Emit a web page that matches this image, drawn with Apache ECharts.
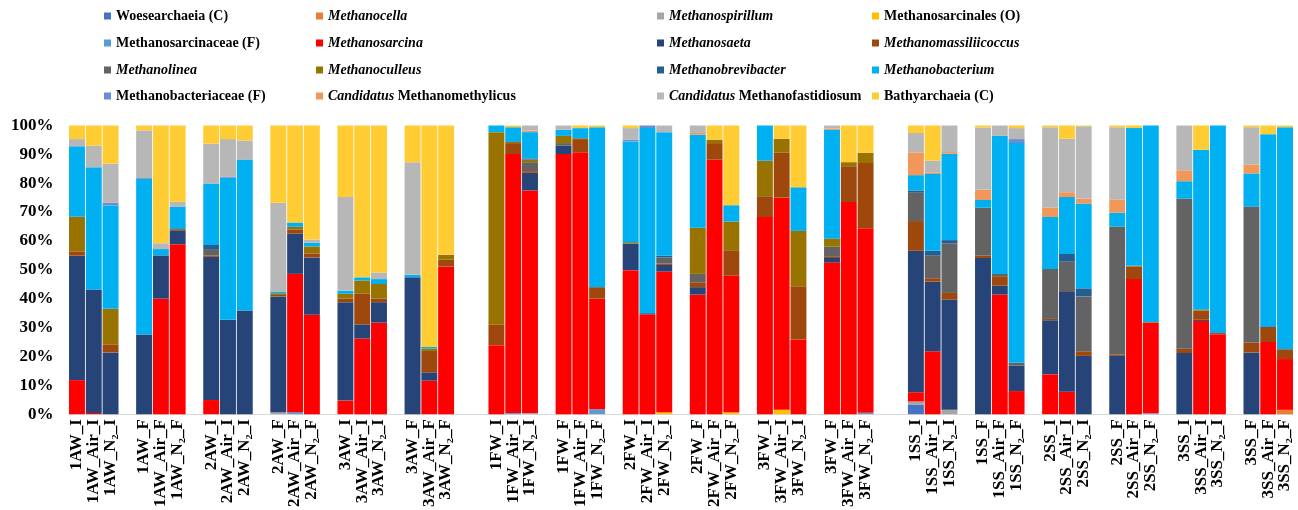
<!DOCTYPE html>
<html>
<head>
<meta charset="utf-8">
<script src="https://cdn.jsdelivr.net/npm/echarts@6/dist/echarts.min.js"></script>
<style>html,body{margin:0;padding:0;background:#fff;}#c{width:1298px;height:510px;}</style>
</head>
<body>
<div id="c"></div>
<script>
const samples = [
 '1AW_I','1AW_Air_I','1AW_N₂_I','1AW_F','1AW_Air_F','1AW_N₂_F','2AW_I','2AW_Air_I','2AW_N₂_I','2AW_F','2AW_Air_F','2AW_N₂_F','3AW_I','3AW_Air_I','3AW_N₂_I','3AW_F','3AW_Air_F','3AW_N₂_F',
 '1FW_I','1FW_Air_I','1FW_N₂_I','1FW_F','1FW_Air_F','1FW_N₂_F','2FW_I','2FW_Air_I','2FW_N₂_I','2FW_F','2FW_Air_F','2FW_N₂_F','3FW_I','3FW_Air_I','3FW_N₂_I','3FW_F','3FW_Air_F','3FW_N₂_F',
 '1SS_I','1SS_Air_I','1SS_N₂_I','1SS_F','1SS_Air_F','1SS_N₂_F','2SS_I','2SS_Air_I','2SS_N₂_I','2SS_F','2SS_Air_F','2SS_N₂_F','3SS_I','3SS_Air_I','3SS_N₂_I','3SS_F','3SS_Air_F','3SS_N₂_F'
];
const taxa = ['Woesearchaeia (C)','Methanocella','Methanospirillum','Methanosarcinales (O)',
 'Methanosarcinaceae (F)','Methanosarcina','Methanosaeta','Methanomassiliicoccus',
 'Methanolinea','Methanoculleus','Methanobrevibacter','Methanobacterium',
 'Methanobacteriaceae (F)','Candidatus Methanomethylicus','Candidatus Methanofastidiosum','Bathyarchaeia (C)'];
const yTicks = [0,10,20,30,40,50,60,70,80,90,100];

const woesearchaeia = [0,0,0,0,0,0, 0,0,0,0,0,0, 0,0,0,0,0,0,
 0,0,0,0,0,0, 0,0,0,0,0,0, 0,0,0,0,0,0,
 3.2,0,0,0,0,0, 0,0,0,0,0,0, 0,0,0,0,0,0];
const methanocella = [0,0,0,0,0,0, 0,0,0,0,0,0, 0,0,0,0,0,0,
 0,0,0,0,0,0, 0,0,0,0,0,0, 0,0,0,0,0,0,
 0,0,0,0,0,0, 0,0,0,0,0,0, 0,0,0,0,0,1.5];
const methanospirillum = [0,0,0,0,0,0, 0,0,0,0.7,0,0, 0,0,0,0,0,0,
 0,0,0.4,0,0,0, 0,0,0,0,0,0, 0,0,0,0,0,0,
 1.2,0,1.5,0,0,0, 0,0,0,0,0,0, 0,0,0,0,0,0];
const methanosarcinales = [0,0,0,0,0,0, 0,0,0,0,0,0, 0,0,0,0,0,0,
 0,0,0,0,0,0, 0,0,0.7,0,0,0.7, 0,1.5,0,0,0,0,
 0,0,0,0,0,0, 0,0,0,0,0,0, 0,0,0,0,0,0];
const methanosarcinaceae = [0,0,0,0,0,0, 0,0,0,0,0.7,0, 0,0,0,0,0,0,
 0,0.4,0,0,0,1.7, 0,0,0,0,0,0, 0,0,0,0,0,0.5,
 0,0,0,0,0,0, 0,0,0,0,0,0.3, 0,0,0,0,0,0];
const methanosarcina = [11.8,0.4,0,0,40.0,58.9, 4.9,0,0,0,47.9,34.4, 4.7,26.2,31.7,0,11.6,51.1,
 23.9,89.7,77.1,90.1,90.7,38.3, 49.9,34.6,48.7,41.4,88.2,47.3, 68.3,73.5,25.9,52.6,73.5,63.9,
 3.2,21.8,0,0,41.4,8.0, 13.8,7.8,0,0,46.8,31.4, 0,32.3,27.7,0,25.0,17.6];
const methanosaeta = [43.1,42.8,21.4,27.6,15.0,4.6, 49.6,32.7,35.9,40.1,14.0,19.9, 34.1,4.9,7.1,47.4,2.9,0,
 0,0,6.1,2.9,0,0, 9.2,0,2.3,2.6,0,0, 0,0,0,1.5,0,0,
 49.0,24.1,38.2,54.1,3.1,8.8, 18.7,34.5,20.2,20.2,0,0, 21.2,0.4,0,21.4,0,0];
const methanomassiliicoccus = [1.5,0,2.8,0,0,0.6, 0.5,0,0,0.5,1.3,1.4, 1.2,10.6,1.2,0,7.4,2.4,
 7.2,3.8,0.6,0,4.6,4.0, 0,0,0.5,1.7,5.7,8.8, 7.2,15.7,18.4,0.4,12.4,22.6,
 10.3,1.2,2.3,0.8,3.3,0, 0.5,0,1.6,0.5,4.4,0.2, 1.5,3.2,0.4,3.3,5.2,3.4];
const methanolinea = [0,0,0,0,0,0, 2.2,0,0,0,0,0, 0,0,0,0,0,0,
 0,0,3.1,0.9,0,0, 0,0,2.1,2.9,0,0, 0,0,0,3.5,0,0,
 9.8,7.8,17.2,16.6,0.8,1.0, 17.3,10.5,19.0,44.3,0,0, 52.0,0,0,47.2,0,0];
const methanoculleus = [12.0,0,12.3,0,0,0, 0,0,0,0.6,1.0,2.4, 1.7,4.6,5.1,0,0.8,1.7,
 66.6,0.4,0.9,2.5,0.3,0, 0.5,0,0,16.0,1.2,9.9, 12.3,4.7,19.2,2.8,1.4,3.5,
 0,0,0,0,0,0, 0,0,0,0,0.2,0, 0,0.4,0,0,0,0];
const methanobrevibacter = [0,0,0,0,0,0, 1.4,0,0,0,0,0, 0,0,0,0,0,0,
 0,0,0.4,0,0,0, 0,0.4,0.6,0,0,0, 0,0,0,0,0,0,
 0.8,1.7,1.1,0,0,0, 0,2.7,2.8,0,0,0, 0,0,0,0,0,0];
const methanobacterium = [24.4,42.3,35.8,53.9,2.2,7.7, 21.3,49.2,52.3,0.6,1.5,1.3, 1.1,1.1,1.7,0.9,0.6,0,
 2.3,5.1,9.1,2.1,3.5,55.4, 34.9,64.1,42.8,32.2,0,5.7, 12.2,0,15.1,37.7,0,0,
 5.3,26.6,29.9,2.7,47.8,76.1, 18.0,19.7,29.4,4.8,47.7,68.1, 6.0,55.3,71.9,11.5,66.8,76.9];
const methanobacteriaceae = [0,0,0.9,0.3,0,0, 0,0.3,0,0,0,0, 0,0,0,0,0,0,
 0,0,0,0,0,0, 0.6,0.9,0,0,0,0, 0,0,0,0,0,0,
 0,0,0,0,0,1.4, 0,0,0,0,0,0, 0,0,0,0,0,0];
const candMethanomethylicus = [0,0,0,0,0,0, 0,0,0,0,0,0, 0,0,0,0,0,0,
 0,0,0.5,0,0,0, 0,0,0,0.6,0,0, 0,0,0,0.4,0,0,
 7.9,0.4,0.6,3.6,0,0, 3.2,1.7,1.7,4.6,0,0, 3.8,0,0,3.1,0,0];
const candMethanofastidiosum = [2.5,7.5,13.6,16.5,2.0,1.8, 13.8,13.1,6.6,30.7,0,1.1, 32.4,0,2.3,39.0,0,0,
 0,0,1.8,1.5,0,0, 4.0,0,2.3,2.6,0,0, 0,0,0,1.1,0,0,
 6.7,4.2,9.2,21.5,3.6,3.8, 27.9,18.5,25.0,25.0,0,0, 15.5,0,0,12.9,0,0];
const bathyarchaeia = [4.7,7.0,13.2,1.7,40.8,26.4, 6.3,4.7,5.2,26.8,33.6,39.5, 24.8,52.6,50.9,12.7,76.7,44.8,
 0,0.6,0,0,0.9,0.6, 0.9,0,0,0,4.9,27.6, 0,4.6,21.4,0,12.7,9.5,
 2.6,12.2,0,0.7,0,0.9, 0.6,4.6,0.3,0.6,0.9,0, 0,8.4,0,0.6,3.0,0.6];

const seriesValues = [woesearchaeia, methanocella, methanospirillum, methanosarcinales,
 methanosarcinaceae, methanosarcina, methanosaeta, methanomassiliicoccus,
 methanolinea, methanoculleus, methanobrevibacter, methanobacterium,
 methanobacteriaceae, candMethanomethylicus, candMethanofastidiosum, bathyarchaeia];

const colors = ['#4472C4','#ED7D31','#A5A5A5','#FFC000',
 '#5B9BD5','#FF0000','#264478','#9E480E',
 '#636363','#997300','#255E91','#00B0F0',
 '#698ED0','#F1975A','#B7B7B7','#FFCD33'];

const legendFmt = {
 'Woesearchaeia (C)':'{n|Woesearchaeia (C)}',
 'Methanocella':'{i|Methanocella}',
 'Methanospirillum':'{i|Methanospirillum}',
 'Methanosarcinales (O)':'{n|Methanosarcinales (O)}',
 'Methanosarcinaceae (F)':'{n|Methanosarcinaceae (F)}',
 'Methanosarcina':'{i|Methanosarcina}',
 'Methanosaeta':'{i|Methanosaeta}',
 'Methanomassiliicoccus':'{i|Methanomassiliicoccus}',
 'Methanolinea':'{i|Methanolinea}',
 'Methanoculleus':'{i|Methanoculleus}',
 'Methanobrevibacter':'{i|Methanobrevibacter}',
 'Methanobacterium':'{i|Methanobacterium}',
 'Methanobacteriaceae (F)':'{n|Methanobacteriaceae (F)}',
 'Candidatus Methanomethylicus':'{i|Candidatus}{n| Methanomethylicus}',
 'Candidatus Methanofastidiosum':'{i|Candidatus}{n| Methanofastidiosum}',
 'Bathyarchaeia (C)':'{n|Bathyarchaeia (C)}'
};

const cats = [];
const slotIndex = [];
samples.forEach((s, i) => {
  slotIndex.push(cats.length);
  cats.push(s);
  if (i === samples.length - 1) return;
  if ((i + 1) % 18 === 0) { cats.push(''); cats.push(''); }
  else if ((i + 1) % 3 === 0) { cats.push(''); }
});
function slotted(arr) {
  const out = new Array(cats.length).fill(null);
  arr.forEach((v, i) => { out[slotIndex[i]] = v; });
  return out;
}

const FF = '"Liberation Serif","Times New Roman",serif';
const colX = [104, 316, 657, 872];
const rowY = [18, 45, 72, 98];
const legends = taxa.map((t, k) => ({
  data: [t],
  left: colX[k % 4],
  top: rowY[Math.floor(k / 4)] - 9,
  padding: 0,
  itemWidth: 7, itemHeight: 7,
  icon: 'rect',
  selectedMode: false,
  formatter: n => legendFmt[n],
  textStyle: {
    color: '#000',
    rich: {
      n: {fontFamily: FF, fontWeight: 'bold', fontSize: 14, lineHeight: 18, color: '#000'},
      i: {fontFamily: FF, fontWeight: 'bold', fontStyle: 'italic', fontSize: 14, lineHeight: 18, color: '#000'}
    }
  }
}));

const chart = echarts.init(document.getElementById('c'), null, {renderer: 'canvas'});
chart.setOption({
  animation: false,
  color: colors,
  legend: legends,
  grid: {left: 68.6, right: 4.6, top: 125.5, bottom: 94},
  xAxis: {
    type: 'category',
    data: cats,
    axisTick: {show: false},
    axisLine: {show: true, lineStyle: {color: '#D9D9D9', width: 1}},
    axisLabel: {interval: 0, rotate: 90, margin: 5, color: '#000',
      fontFamily: FF, fontWeight: 'bold', fontSize: 17}
  },
  yAxis: {
    type: 'value', min: yTicks[0], max: yTicks[yTicks.length - 1], interval: 10,
    splitLine: {show: false},
    axisLine: {show: false}, axisTick: {show: false},
    axisLabel: {formatter: '{value}%', margin: 15, color: '#000',
      fontFamily: FF, fontWeight: 'bold', fontSize: 17}
  },
  series: taxa.map((t, k) => ({
    name: t,
    type: 'bar',
    stack: 'total',
    barCategoryGap: '5%',
    itemStyle: {color: colors[k]},
    data: slotted(seriesValues[k])
  }))
});
</script>
</body>
</html>
